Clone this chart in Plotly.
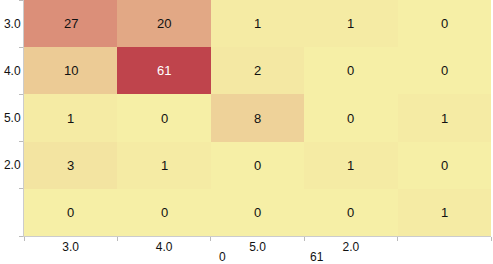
import plotly.graph_objects as go

x_labels = ["3.0", "4.0", "5.0", "2.0", ""]
y_labels = ["3.0", "4.0", "5.0", "2.0", ""]
values = [
    [27, 20, 1, 1, 0],
    [10, 61, 2, 0, 0],
    [1, 0, 8, 0, 1],
    [3, 1, 0, 1, 0],
    [0, 0, 0, 0, 1],
]
vmin, vmax = 0, 61
colors = ["#f6efa6", "#d88273", "#bf444c"]

n = len(x_labels)
idx = list(range(n))
bounds = [i - 0.5 for i in range(n + 1)]

fig = go.Figure(go.Heatmap(
    z=values, x=idx, y=idx,
    zmin=vmin, zmax=vmax,
    colorscale=[[0, colors[0]], [0.5, colors[1]], [1, colors[2]]],
    showscale=False,
    hoverinfo="skip",
))

annotations = []
for r, row in enumerate(values):
    for c, v in enumerate(row):
        annotations.append(dict(
            text=str(v), x=idx[c], y=idx[r], xref="x", yref="y", showarrow=False,
            font=dict(family="Liberation Sans", size=13,
                      color="#ffffff" if v > 0.8 * vmax else "#111111"),
        ))

axis_common = dict(
    showgrid=False, zeroline=False, showline=True, linecolor="#cccccc", linewidth=1,
    tickmode="array", tickvals=idx, ticks="", automargin=False,
    tickfont=dict(family="Liberation Sans", size=12, color="#111111"),
    minor=dict(tickmode="array", tickvals=bounds, ticks="outside", ticklen=4,
               tickcolor="#bbbbbb", showgrid=False),
)

fig.update_xaxes(range=[-0.5, n - 0.5], ticktext=x_labels, **axis_common)
fig.update_yaxes(range=[n - 0.5, -0.5], ticktext=y_labels, **axis_common)

for val, xp in ((vmin, 0.426), (vmax, 0.627)):
    annotations.append(dict(
        text=str(val), x=xp, y=-0.089, xref="paper", yref="paper",
        showarrow=False, xanchor="center", yanchor="middle",
        font=dict(family="Liberation Sans", size=12, color="#111111"),
    ))

fig.update_layout(
    width=493, height=264,
    margin=dict(l=24, r=2, t=0, b=28, autoexpand=False),
    plot_bgcolor="white", paper_bgcolor="white",
    font=dict(family="Liberation Sans", size=12, color="#111111"),
    annotations=annotations,
)

fig.write_html(
    "out.html",
    config={"displayModeBar": False},
    post_script="document.body.style.margin='0';document.body.style.overflow='hidden';",
)
